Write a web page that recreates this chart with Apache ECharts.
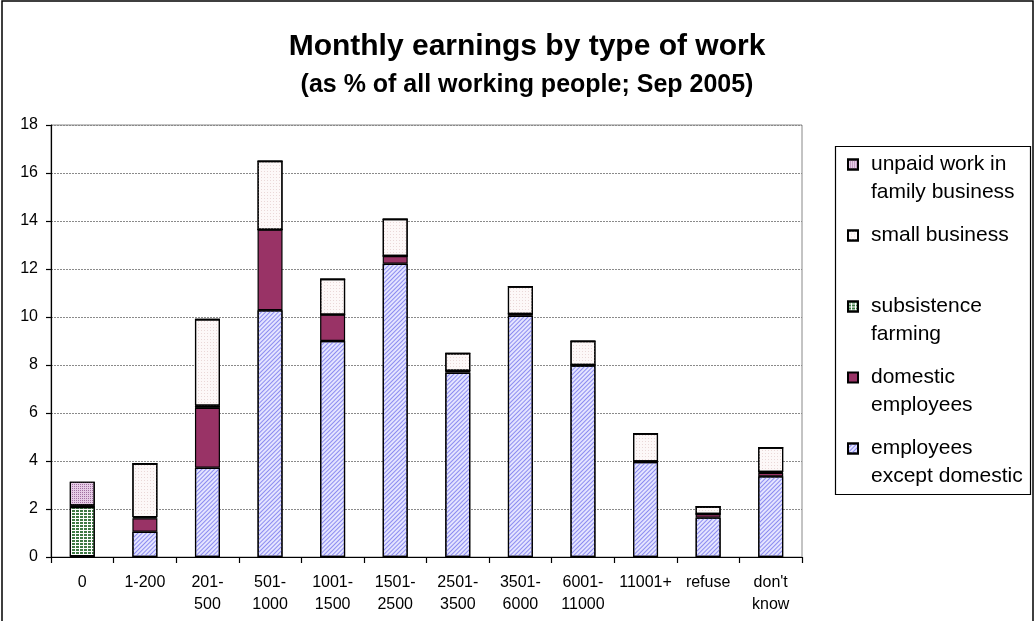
<!DOCTYPE html>
<html>
<head>
<meta charset="utf-8">
<script src="https://cdn.jsdelivr.net/npm/echarts@6/dist/echarts.min.js"></script>
<style>
html,body{margin:0;padding:0;background:#fff;}
#c{width:1035px;height:621px;}
</style>
</head>
<body>
<div id="c"></div>
<script>
// ---- data (stack order bottom -> top) ----
var categories = ['0', '1-200', '201-\n500', '501-\n1000', '1001-\n1500', '1501-\n2500', '2501-\n3500', '3501-\n6000', '6001-\n11000', '11001+', 'refuse', "don't\nknow"];
var employeesExceptDomestic = [0.03, 1.05, 3.72, 10.28, 9.00, 12.22, 7.68, 10.05, 7.98, 3.96, 1.64, 3.36];
var domesticEmployees       = [0.00, 0.56, 2.50, 3.36, 1.10, 0.32, 0.08, 0.08, 0.02, 0.02, 0.15, 0.15];
var subsistenceFarming      = [2.05, 0.05, 0.08, 0.00, 0.00, 0.00, 0.00, 0.00, 0.00, 0.00, 0.00, 0.03];
var smallBusiness           = [0.07, 2.23, 3.60, 2.86, 1.48, 1.54, 0.73, 1.14, 1.00, 1.16, 0.31, 1.02];
var unpaidFamilyWork        = [0.99, 0.00, 0.00, 0.00, 0.00, 0.00, 0.00, 0.00, 0.00, 0.00, 0.00, 0.00];
var yTicks = { min: 0, max: 18, interval: 2 };
var titleText = 'Monthly earnings by type of work';
var subtitleText = '(as % of all working people; Sep 2005)';
var legendLabels = {
  'unpaid work in family business': ['unpaid work in', 'family business'],
  'small business': ['small business', ''],
  'subsistence farming': ['subsistence', 'farming'],
  'domestic employees': ['domestic', 'employees'],
  'employees except domestic': ['employees', 'except domestic']
};

var FONT = "'Liberation Sans', Arial, sans-serif";
var chart = echarts.init(document.getElementById('c'), null, { renderer: 'canvas' });

function barSeries(name, data, color, decal) {
  var s = {
    name: name,
    type: 'bar',
    stack: 'total',
    data: data,
    barWidth: 25,
    itemStyle: { color: color, borderColor: '#000', borderWidth: 1.2 },
    emphasis: { disabled: true }
  };
  if (decal) s.itemStyle.decal = decal;
  return s;
}

var option = {
  animation: false,
  backgroundColor: '#fff',
  title: [
    { text: titleText, left: 522, top: 27, textAlign: 'center',
      textStyle: { fontFamily: FONT, fontSize: 30, fontWeight: 'bold', color: '#000' } },
    { text: subtitleText, left: 522, top: 68, textAlign: 'center',
      textStyle: { fontFamily: FONT, fontSize: 25, fontWeight: 'bold', color: '#000' } }
  ],
  grid: { left: 51, top: 125, width: 751, height: 432, show: true, borderColor: '#888', borderWidth: 1, backgroundColor: 'transparent' },
  legend: {
    orient: 'vertical',
    left: 842,
    top: 121,
    itemGap: -6,
    itemWidth: 10,
    itemHeight: 10,
    icon: 'rect',
    selectedMode: false,
    data: ['unpaid work in family business', 'small business', 'subsistence farming', 'domestic employees', 'employees except domestic'],
    formatter: function (n) {
      var l = legendLabels[n];
      return '{p|}\n{t|' + l[0] + '}\n{t|' + l[1] + '}';
    },
    textStyle: {
      fontFamily: FONT, fontSize: 21, color: '#000',
      padding: [0, 0, 0, 8],
      rich: {
        p: { fontFamily: FONT, fontSize: 21, lineHeight: 28 },
        t: { fontFamily: FONT, fontSize: 21, lineHeight: 28, color: '#000' }
      }
    }
  },
  xAxis: {
    type: 'category',
    data: categories,
    axisLine: { lineStyle: { color: '#000', width: 1.2 } },
    axisTick: { show: true, length: 6, lineStyle: { color: '#000', width: 1.2 }, alignWithLabel: false },
    axisLabel: { interval: 0, fontFamily: FONT, fontSize: 16, lineHeight: 22, margin: 15, color: '#000' },
    splitLine: { show: false }
  },
  yAxis: {
    type: 'value',
    min: yTicks.min, max: yTicks.max, interval: yTicks.interval,
    axisLine: { show: true, lineStyle: { color: '#000', width: 1.2 } },
    axisTick: { show: true, length: 5, lineStyle: { color: '#000', width: 1.2 } },
    axisLabel: { fontFamily: FONT, fontSize: 16, margin: 13, color: '#000' },
    splitLine: { show: true, lineStyle: { color: '#8a8a8a', width: 1, type: [2, 1] } }
  },
  series: [
    barSeries('employees except domestic', employeesExceptDomestic, '#e4e4ff',
      { symbol: 'rect', symbolSize: 1, color: '#8c8cf0', dashArrayX: [1, 0], dashArrayY: [1, 2], rotation: -Math.PI / 4 }),
    barSeries('domestic employees', domesticEmployees, '#993366', null),
    barSeries('subsistence farming', subsistenceFarming, '#ffffff',
      { symbol: 'rect', symbolSize: 1, color: '#3f7a45', dashArrayX: [3, 1], dashArrayY: [2, 1], rotation: 0 }),
    barSeries('small business', smallBusiness, '#fdf8f8',
      { symbol: 'rect', symbolSize: 1, color: '#ead8d8', dashArrayX: [1, 2], dashArrayY: [1, 2], rotation: 0 }),
    barSeries('unpaid work in family business', unpaidFamilyWork, '#e6cce6',
      { symbol: 'rect', symbolSize: 1, color: '#a070a0', dashArrayX: [1, 1], dashArrayY: [1, 1], rotation: 0 })
  ],
  graphic: [
    { type: 'rect', silent: true, z: 100,
      shape: { x: 835.5, y: 146.5, width: 195, height: 348 },
      style: { fill: 'none', stroke: '#000', lineWidth: 1.2 } },
    { type: 'rect', silent: true, z: 100,
      shape: { x: 2, y: 1, width: 1031, height: 660 },
      style: { fill: 'none', stroke: '#000', lineWidth: 1.5 } }
  ]
};
chart.setOption(option);
</script>
</body>
</html>
